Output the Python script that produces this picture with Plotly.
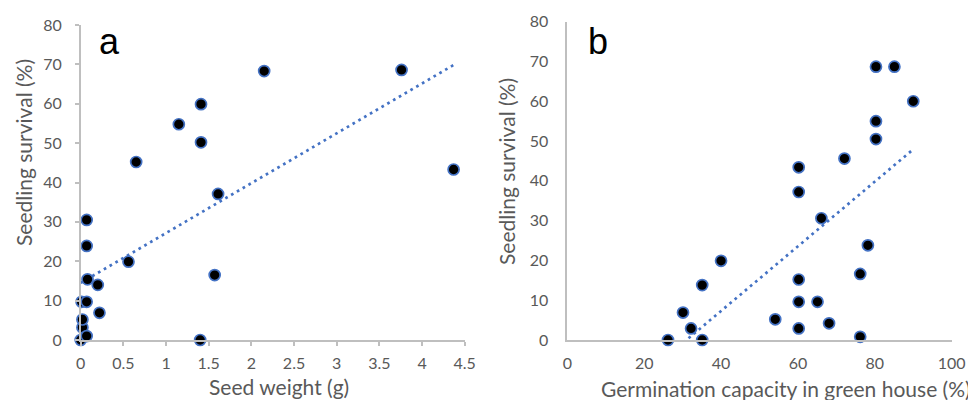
import numpy as np
import plotly.graph_objects as go

# Panel a: seed weight (g) vs seedling survival (%)
seed_weight = [0.00, 0.02, 0.02, 0.01, 0.07, 0.07, 0.07, 0.07, 0.08, 0.20, 0.22,
               0.56, 0.65, 1.15, 1.41, 1.41, 1.40, 1.61, 1.57, 2.15, 3.76, 4.37]
survival_a = [0.0, 3.2, 5.2, 9.7, 9.7, 1.0, 23.9, 30.5, 15.4, 14.0, 6.9,
              19.9, 45.2, 54.8, 59.9, 50.2, 0.0, 37.1, 16.5, 68.3, 68.6, 43.3]

# Panel b: germination capacity in green house (%) vs seedling survival (%)
germination = [26.2, 30.1, 32.2, 35.1, 35.1, 40.0, 54.1, 60.2, 60.2, 60.2, 60.2, 60.2,
               65.1, 66.1, 68.1, 72.1, 76.2, 76.2, 78.2, 80.3, 80.3, 80.3, 85.1, 90.0]
survival_b = [0.0, 6.9, 2.9, 13.8, 0.0, 19.9, 5.2, 43.4, 37.2, 15.2, 9.6, 2.9,
              9.6, 30.6, 4.2, 45.6, 16.6, 0.8, 23.8, 68.7, 55.0, 50.5, 68.7, 60.0]

x_ticks_a = [0, 0.5, 1, 1.5, 2, 2.5, 3, 3.5, 4, 4.5]
x_ticks_b = [0, 20, 40, 60, 80, 100]
y_ticks = [0, 10, 20, 30, 40, 50, 60, 70, 80]

BLUE = "#4472C4"
GREY_TXT = "#595959"
AXIS = "#BFBFBF"
FONT = "Lato"
W, H = 976, 400
OFF = 8  # page body margin offset


def px(x):
    return (x - OFF) / W


def py(y):
    return 1 - (y - OFF) / H


def trend(xs, ys):
    m, c = np.polyfit(xs, ys, 1)
    x0, x1 = min(xs), max(xs)
    return [x0, x1], [m * x0 + c, m * x1 + c]


fig = go.Figure()

for xs, ys, xa, ya in [(seed_weight, survival_a, "x", "y"),
                       (germination, survival_b, "x2", "y2")]:
    tx, ty = trend(xs, ys)
    fig.add_trace(go.Scatter(x=tx, y=ty, mode="lines", xaxis=xa, yaxis=ya,
                             line=dict(color=BLUE, width=2.7, dash="2.7px,4px"),
                             showlegend=False, hoverinfo="skip"))
    fig.add_trace(go.Scatter(x=xs, y=ys, mode="markers", xaxis=xa, yaxis=ya,
                             marker=dict(color="black", size=11,
                                         line=dict(color=BLUE, width=1.7)),
                             cliponaxis=False, showlegend=False))

tickfont = dict(family=FONT, size=16, color=GREY_TXT)
common_axis = dict(showline=True, linecolor=AXIS, linewidth=1.5, showgrid=False,
                   zeroline=False, tickfont=tickfont, automargin=False)

fig.update_layout(
    width=W, height=H,
    margin=dict(l=0, r=0, t=0, b=0),
    paper_bgcolor="white", plot_bgcolor="white",
    xaxis=dict(domain=[px(80.7), px(464.7)], range=[0, 4.5],
               tickvals=x_ticks_a, ticks="outside", ticklen=4, tickcolor=AXIS,
               tickwidth=1.5, anchor="y", ticklabelstandoff=4, **common_axis),
    yaxis=dict(domain=[py(340), py(25)], range=[0, 80], tickvals=y_ticks,
               ticks="outside", ticklen=4, tickcolor=AXIS, tickwidth=1.5,
               anchor="x", ticklabelstandoff=10, **common_axis),
    xaxis2=dict(domain=[px(567.3), px(951.7)], range=[0, 100],
                tickvals=x_ticks_b, ticks="", anchor="y2", ticklabelstandoff=8,
                **common_axis),
    yaxis2=dict(domain=[py(340), py(21.7)], range=[0, 80], tickvals=y_ticks,
                ticks="", anchor="x2", ticklabelstandoff=14, **common_axis),
)

title_font = dict(family=FONT, size=21, color=GREY_TXT)
annotations = [
    dict(text="Seed weight (g)", x=279, y=386),
    dict(text="Germination capacity in green house (%)", x=786, y=388),
    dict(text="Seedling survival (%)", x=23, y=153, textangle=-90),
    dict(text="Seedling survival (%)", x=507, y=172, textangle=-90),
]
for a in annotations:
    fig.add_annotation(xref="paper", yref="paper", x=px(a["x"]), y=py(a["y"]),
                       text=a["text"], showarrow=False, font=title_font,
                       textangle=a.get("textangle", 0),
                       xanchor="center", yanchor="middle")

for letter, x, y in [("a", 109, 42), ("b", 598, 42)]:
    fig.add_annotation(xref="paper", yref="paper", x=px(x), y=py(y),
                       text=letter, showarrow=False,
                       font=dict(family="Liberation Sans", size=36, color="black"),
                       xanchor="center", yanchor="middle")

fig.write_html("out.html")
